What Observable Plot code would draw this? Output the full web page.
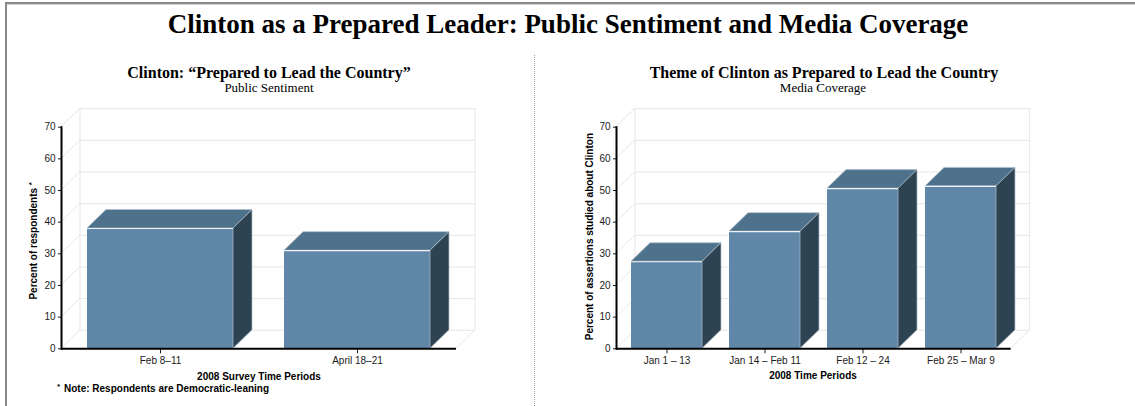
<!DOCTYPE html>
<html>
<head>
<meta charset="utf-8">
<script src="https://cdn.jsdelivr.net/npm/d3@7"></script>
<script src="https://cdn.jsdelivr.net/npm/@observablehq/plot@0.6"></script>
<style>
  body { margin: 0; background: #fff; }
  #page { position: relative; width: 1135px; height: 406px; overflow: hidden; background: #fff; }
  .chart { position: absolute; top: 100px; }
  #left { left: 0; }
  #right { left: 535px; }
  #overlay { position: absolute; left: 0; top: 0; pointer-events: none; }
  .sans { font-family: "Liberation Sans", Arial, sans-serif; }
  .serif { font-family: "Liberation Serif", "Times New Roman", serif; }
</style>
</head>
<body>
<div id="page">
  <div id="left" class="chart"></div>
  <div id="right" class="chart"></div>
  <svg id="overlay" width="1135" height="406" xmlns="http://www.w3.org/2000/svg">
    <rect x="5" y="2" width="1130" height="2" fill="#8a8a8a"/>
    <rect x="7" y="4" width="1128" height="1" fill="#d0d0d0"/>
    <rect x="5" y="2" width="2" height="404" fill="#8a8a8a"/>
    <line x1="534.5" y1="55" x2="534.5" y2="406" stroke="#a0a0a0" stroke-dasharray="1,1"/>

    <text class="serif" x="568" y="33" text-anchor="middle" font-size="27" font-weight="bold" fill="#000">Clinton as a Prepared Leader: Public Sentiment and Media Coverage</text>

    <text class="serif" x="269" y="78" text-anchor="middle" font-size="16" font-weight="bold" fill="#000">Clinton: “Prepared to Lead the Country”</text>
    <text class="serif" x="269" y="92" text-anchor="middle" font-size="13" fill="#000">Public Sentiment</text>

    <text class="serif" x="824" y="78" text-anchor="middle" font-size="16" font-weight="bold" fill="#000">Theme of Clinton as Prepared to Lead the Country</text>
    <text class="serif" x="823" y="92" text-anchor="middle" font-size="13" fill="#000">Media Coverage</text>

    <text class="sans" transform="translate(37,182) rotate(-90)" text-anchor="end" font-size="10" font-weight="bold" fill="#000">Percent of respondents <tspan font-size="8" dy="-3">*</tspan></text>
    <text class="sans" transform="translate(593,133) rotate(-90)" text-anchor="end" font-size="10" font-weight="bold" fill="#000">Percent of assertions studied about Clinton</text>

    <text class="sans" x="259" y="379.5" text-anchor="middle" font-size="10" font-weight="bold" fill="#000">2008 Survey Time Periods</text>
    <text class="sans" x="813" y="378.5" text-anchor="middle" font-size="10" font-weight="bold" fill="#000">2008 Time Periods</text>

    <text class="sans" x="57" y="389" font-size="8" font-weight="bold" fill="#000">*</text>
    <text class="sans" x="64" y="392" font-size="10" font-weight="bold" fill="#000">Note: Respondents are Democratic-leaning</text>
  </svg>
</div>
<script>
// Public sentiment: share of Democratic-leaning respondents saying Clinton is prepared to lead
const surveyPeriods = ["Feb 8–11", "April 18–21"];
const surveyValues = [38, 31];

// Media coverage: share of assertions studied about Clinton carrying the theme
const coveragePeriods = ["Jan 1 – 13", "Jan 14 – Feb 11", "Feb 12 – 24", "Feb 25 – Mar 9"];
const coverageValues = [27.5, 37, 50.6, 51.3];

const yTicks = [0, 10, 20, 30, 40, 50, 60, 70];

// Look of the 3D columns
const DEPTH_X = 19, DEPTH_Y = 18.5;
const FRONT = "#6087a7", TOP = "#4e728c", SIDE = "#2e4352", EDGE = "#aebfcd";
const GRID = "#e6e6e6";

function bandwidthOf(x) {
  return typeof x.bandwidth === "function" ? x.bandwidth() : x.bandwidth;
}

// Side wall and floor edges of the back panel, drawn with the y scale
function depthWalls(ticks) {
  return (index, scales, values, dims) => {
    const y = scales.y;
    const left = dims.marginLeft, right = dims.width - dims.marginRight;
    const g = d3.create("svg:g").attr("stroke", GRID).attr("fill", "none");
    for (const t of ticks) {
      g.append("line")
        .attr("x1", left).attr("y1", y(t))
        .attr("x2", left + DEPTH_X).attr("y2", y(t) - DEPTH_Y);
    }
    const y0 = y(ticks[0]), yTop = y(ticks[ticks.length - 1]);
    g.append("line").attr("x1", right).attr("y1", y0).attr("x2", right + DEPTH_X).attr("y2", y0 - DEPTH_Y);
    g.append("line").attr("x1", left + DEPTH_X).attr("y1", yTop - DEPTH_Y).attr("x2", left + DEPTH_X).attr("y2", y0 - DEPTH_Y);
    g.append("line").attr("x1", right + DEPTH_X).attr("y1", yTop - DEPTH_Y).attr("x2", right + DEPTH_X).attr("y2", y0 - DEPTH_Y);
    return g.node();
  };
}

// Top and side faces of each column, from the same rows as the front faces
function columnFaces(rows) {
  return (index, scales) => {
    const x = scales.x, y = scales.y, bw = bandwidthOf(x);
    const g = d3.create("svg:g").attr("stroke", EDGE).attr("stroke-width", 0.7).attr("stroke-linejoin", "round");
    for (const r of rows) {
      const x0 = x(r.period), x1 = x0 + bw, yt = y(r.value), yb = y(0);
      g.append("path")
        .attr("fill", TOP)
        .attr("d", `M${x0},${yt}L${x0 + DEPTH_X},${yt - DEPTH_Y}L${x1 + DEPTH_X},${yt - DEPTH_Y}L${x1},${yt}Z`);
      g.append("path")
        .attr("fill", SIDE)
        .attr("d", `M${x1},${yt}L${x1 + DEPTH_X},${yt - DEPTH_Y}L${x1 + DEPTH_X},${yb - DEPTH_Y}L${x1},${yb}Z`);
    }
    return g.node();
  };
}

function columnChart({periods, values, width, marginLeft, marginRight, paddingInner, paddingOuter}) {
  const rows = periods.map((period, i) => ({period, value: values[i]}));
  return Plot.plot({
    width,
    height: 285,
    marginLeft,
    marginRight,
    marginTop: 26.7,
    marginBottom: 36.7,
    style: {background: "transparent", fontFamily: "Liberation Sans, Arial, sans-serif", fontSize: "10px", color: "#1a1a1a"},
    x: {domain: periods, paddingInner, paddingOuter, label: null, tickSize: 5, tickPadding: 3},
    y: {domain: [0, 70], ticks: yTicks, label: null, tickSize: 3, tickPadding: 3},
    marks: [
      Plot.ruleY(yTicks, {dx: DEPTH_X, dy: -DEPTH_Y, stroke: GRID}),
      depthWalls(yTicks),
      Plot.barY(rows, {x: "period", y: "value", fill: FRONT}),
      columnFaces(rows),
      Plot.tickY(rows, {x: "period", y: "value", stroke: "#eef2f5", strokeWidth: 1.2}),
      Plot.ruleY([0], {stroke: "#000", strokeWidth: 2}),
      Plot.frame({anchor: "left", stroke: "#000", strokeWidth: 2})
    ]
  });
}

document.getElementById("left").append(columnChart({
  periods: surveyPeriods, values: surveyValues,
  width: 535, marginLeft: 61, marginRight: 79,
  paddingInner: 0.26, paddingOuter: 0.13
}));

document.getElementById("right").append(columnChart({
  periods: coveragePeriods, values: coverageValues,
  width: 600, marginLeft: 81, marginRight: 124.3,
  paddingInner: 0.274, paddingOuter: 0.14
}));
</script>
</body>
</html>
